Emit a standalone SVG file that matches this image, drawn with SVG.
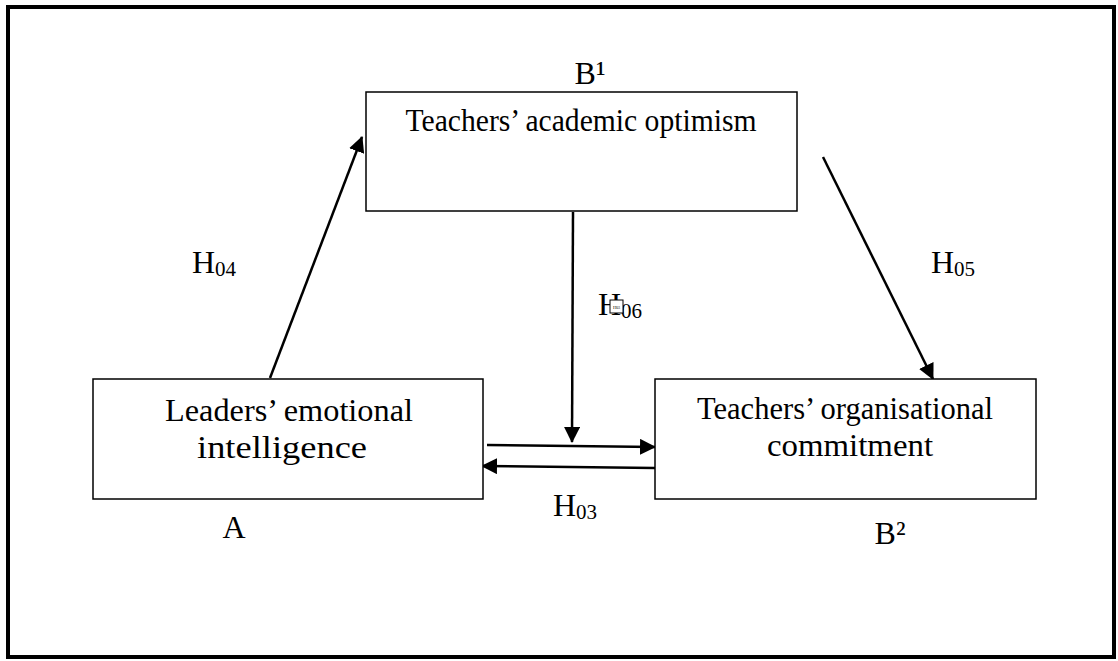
<svg xmlns="http://www.w3.org/2000/svg" width="1118" height="661" viewBox="0 0 1118 661">
<defs>
<marker id="ah" markerWidth="16" markerHeight="16" refX="15" refY="8" orient="auto" markerUnits="userSpaceOnUse" viewBox="0 0 16 16">
<path d="M0,0 L16,8 L0,16 z" fill="#000"/>
</marker>
<style>
.box{fill:#fff;stroke:#000;stroke-width:1.5}
.t{font-family:"Liberation Serif","Times New Roman",serif;font-size:32px;fill:#000}
.sub{font-size:21px}
.c{stroke:#000;stroke-width:2.5;fill:none;marker-end:url(#ah)}
</style>
</defs>
<rect x="0" y="0" width="1118" height="661" fill="#fff"/>
<rect x="8" y="7" width="1106" height="650" fill="none" stroke="#000" stroke-width="4"/>
<g id="connectors">
<line class="c" x1="270" y1="378" x2="362" y2="137"/>
<line class="c" x1="823" y1="157" x2="933" y2="379"/>
<line class="c" x1="573" y1="212" x2="572" y2="442"/>
<line class="c" x1="487" y1="445" x2="655" y2="447"/>
<line class="c" x1="655" y1="468" x2="482" y2="466"/>
</g>
<g id="node-B1">
<rect class="box" x="366" y="92" width="431" height="119"/>
<text class="t" x="581" y="131" text-anchor="middle" textLength="351" lengthAdjust="spacingAndGlyphs">Teachers’ academic optimism</text>
<text class="t" x="590" y="84" text-anchor="middle">B¹</text>
</g>
<g id="node-A">
<rect class="box" x="93" y="379" width="390" height="120"/>
<text class="t" x="289" y="421" text-anchor="middle" textLength="248" lengthAdjust="spacingAndGlyphs">Leaders’ emotional</text>
<text class="t" x="282" y="458" text-anchor="middle" textLength="170" lengthAdjust="spacingAndGlyphs">intelligence</text>
<text class="t" x="234" y="538" text-anchor="middle">A</text>
</g>
<g id="node-B2">
<rect class="box" x="655" y="379" width="381" height="120"/>
<text class="t" x="845" y="419" text-anchor="middle" textLength="296" lengthAdjust="spacingAndGlyphs">Teachers’ organisational</text>
<text class="t" x="850" y="456" text-anchor="middle" textLength="166" lengthAdjust="spacingAndGlyphs">commitment</text>
<text class="t" x="890" y="544" text-anchor="middle">B²</text>
</g>
<g id="labels">
<text class="t" x="192" y="273">H<tspan class="sub" dy="3">04</tspan></text>
<text class="t" x="931" y="273">H<tspan class="sub" dy="3">05</tspan></text>
<text class="t" x="598" y="315">H<tspan class="sub" dy="3">06</tspan></text>
<rect x="610" y="300" width="13" height="13" fill="#fff" stroke="#000" stroke-width="1"/>
<text x="616.5" y="309" text-anchor="middle" font-family="Liberation Serif, serif" font-size="5">H<tspan font-size="3.5">03</tspan></text>
<text class="t" x="553" y="516">H<tspan class="sub" dy="3">03</tspan></text>
</g>
</svg>
